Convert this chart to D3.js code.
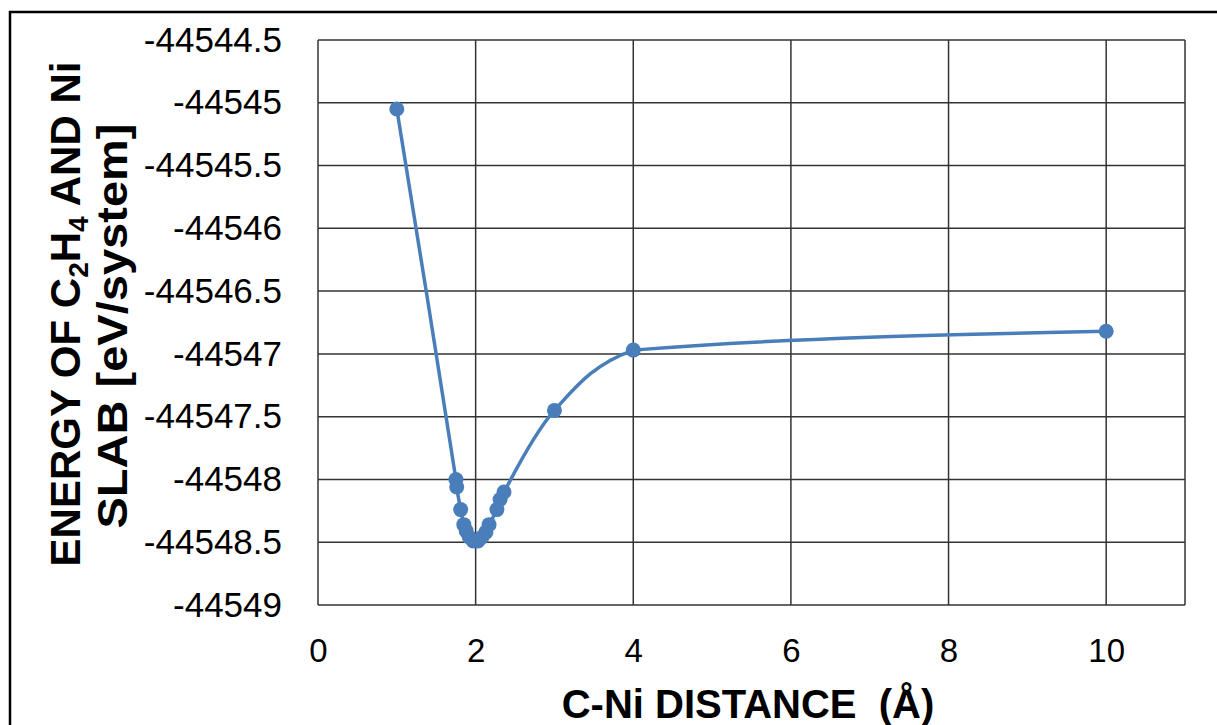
<!DOCTYPE html>
<html>
<head>
<meta charset="utf-8">
<script src="https://cdn.jsdelivr.net/npm/d3@7"></script>
<style>
  body { margin: 0; background: #fff; }
  svg { display: block; font-family: "Liberation Sans", Arial, sans-serif; }
</style>
</head>
<body>
<div id="chart"></div>
<script>
const W = 1217, H = 725;
const MARGINS = {top: 40, right: 32, bottom: 120, left: 318};

// C-Ni distance (Å) and total energy (eV/system)
const distance = [1, 1.75, 1.76, 1.81, 1.85, 1.88, 1.92, 1.97, 2.03, 2.08, 2.13, 2.17, 2.27, 2.31, 2.36, 3, 4, 10];
const energy = [-44545.05, -44548.00, -44548.06, -44548.24, -44548.36, -44548.41, -44548.46, -44548.49,
                -44548.49, -44548.46, -44548.42, -44548.36, -44548.24, -44548.16, -44548.10,
                -44547.45, -44546.97, -44546.82];

const xTicks = [0, 2, 4, 6, 8, 10];
const yTicks = [-44549, -44548.5, -44548, -44547.5, -44547, -44546.5, -44546, -44545.5, -44545, -44544.5];

const LINE_COLOR = '#4A7EBB';

const svg = d3.select('#chart').append('svg')
    .attr('width', W)
    .attr('height', H);

// outer chart border
svg.append('rect')
    .attr('x', 10).attr('y', 12)
    .attr('width', W + 20).attr('height', H + 20)
    .attr('fill', 'none')
    .attr('stroke', '#000')
    .attr('stroke-width', 2.5);

const plotW = 1185 - MARGINS.left;
const plotH = 605 - MARGINS.top;

const xScale = d3.scaleLinear().domain([0, 11]).range([0, plotW]);
const yScale = d3.scaleLinear().domain([-44549, -44544.5]).range([plotH, 0]);

const chart = svg.append('g')
    .attr('transform', `translate(${MARGINS.left}, ${MARGINS.top})`);

// gridlines
chart.append('g')
    .selectAll('line')
    .data(yTicks)
    .enter()
    .append('line')
        .attr('x1', 0).attr('x2', plotW)
        .attr('y1', d => yScale(d)).attr('y2', d => yScale(d))
        .attr('stroke', '#333').attr('stroke-width', 1.5);

chart.append('g')
    .selectAll('line')
    .data(xTicks.concat([11]))
    .enter()
    .append('line')
        .attr('y1', 0).attr('y2', plotH)
        .attr('x1', d => xScale(d)).attr('x2', d => xScale(d))
        .attr('stroke', '#333').attr('stroke-width', 1.5);

// axes (labels only, grid drawn above)
const yAxis = d3.axisLeft(yScale)
    .tickValues(yTicks)
    .tickFormat(d => String(d))
    .tickSize(0)
    .tickPadding(36);
const yG = chart.append('g').call(yAxis);
yG.select('.domain').remove();
yG.selectAll('text')
    .style('font-size', '35px')
    .attr('fill', '#000');

const xAxis = d3.axisBottom(xScale)
    .tickValues(xTicks)
    .tickFormat(d => String(d))
    .tickSize(0)
    .tickPadding(34);
const xG = chart.append('g')
    .attr('transform', `translate(0, ${plotH})`)
    .call(xAxis);
xG.select('.domain').remove();
xG.selectAll('text')
    .style('font-size', '33px')
    .attr('fill', '#000');

// series line, smoothed like the spreadsheet chart
const points = distance.map((d, i) => [d, energy[i]]);
const splitX = xScale(distance[distance.length - 2]);

// clip paths: smooth spline up to the 4 Å point, monotone tail after it
const defs = svg.append('defs');
defs.append('clipPath').attr('id', 'clipLeft')
    .append('rect')
    .attr('x', -50).attr('y', -50)
    .attr('width', splitX + 50).attr('height', plotH + 100);
defs.append('clipPath').attr('id', 'clipRight')
    .append('rect')
    .attr('x', splitX).attr('y', -50)
    .attr('width', plotW).attr('height', plotH + 100);

const smoothLine = d3.line()
    .x(d => xScale(d[0]))
    .y(d => yScale(d[1]))
    .curve(d3.curveCatmullRom.alpha(0.5));

const tailLine = d3.line()
    .x(d => xScale(d[0]))
    .y(d => yScale(d[1]))
    .curve(d3.curveMonotoneX);

chart.append('path')
    .datum(points)
    .attr('d', smoothLine)
    .attr('clip-path', 'url(#clipLeft)')
    .attr('fill', 'none')
    .attr('stroke', LINE_COLOR)
    .attr('stroke-width', 3.5);

chart.append('path')
    .datum(points.slice(-3))
    .attr('d', tailLine)
    .attr('clip-path', 'url(#clipRight)')
    .attr('fill', 'none')
    .attr('stroke', LINE_COLOR)
    .attr('stroke-width', 3.5);

chart.selectAll('.pt')
    .data(points)
    .enter()
    .append('circle')
    .classed('pt', true)
        .attr('cx', d => xScale(d[0]))
        .attr('cy', d => yScale(d[1]))
        .attr('r', 7.5)
        .attr('fill', LINE_COLOR);

// x axis title
svg.append('text')
    .attr('x', 748)
    .attr('y', 718)
    .attr('text-anchor', 'middle')
    .style('font-size', '40px')
    .style('font-weight', 'bold')
    .style('white-space', 'pre')
    .text('C-Ni DISTANCE  (Å)');

// y axis title, two lines with subscripts
const yTitle = svg.append('text')
    .attr('transform', 'translate(80, 314) rotate(-90)')
    .attr('text-anchor', 'middle')
    .style('font-size', '42px')
    .style('font-weight', 'bold');
yTitle.append('tspan').text('ENERGY OF C');
yTitle.append('tspan').attr('dy', 8).style('font-size', '28px').text('2');
yTitle.append('tspan').attr('dy', -8).text('H');
yTitle.append('tspan').attr('dy', 8).style('font-size', '28px').text('4');
yTitle.append('tspan').attr('dy', -8).text(' AND Ni');

svg.append('text')
    .attr('transform', 'translate(127, 326) rotate(-90)')
    .attr('text-anchor', 'middle')
    .attr('textLength', 405)
    .attr('lengthAdjust', 'spacingAndGlyphs')
    .style('font-size', '42px')
    .style('font-weight', 'bold')
    .text('SLAB [eV/system]');
</script>
</body>
</html>
